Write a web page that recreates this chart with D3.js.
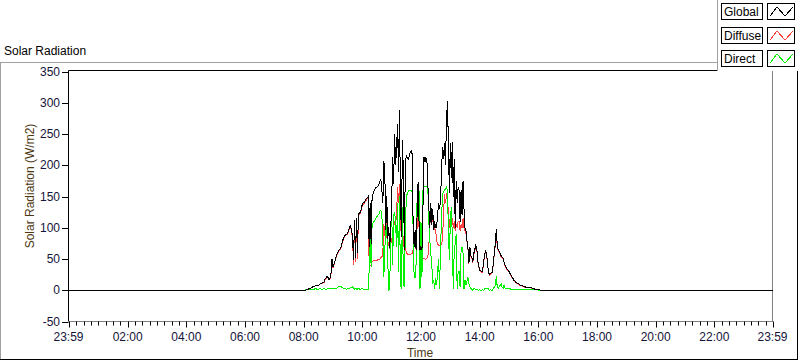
<!DOCTYPE html>
<html>
<head>
<meta charset="utf-8">
<script src="https://cdn.jsdelivr.net/npm/d3@7"></script>
<style>
  body { margin: 0; background: #fff; }
  svg { display: block; font-family: "Liberation Sans", Arial, sans-serif; }
</style>
</head>
<body>
<svg id="chart" width="800" height="361"></svg>
<script>
// samples every 2 minutes starting at 08:00 (minutes since midnight)
const startMinute = 480
const stepMinutes = 2

const globalVals = [
  0,0,0,1,2,2,3,3,4,5,
  6,6,7,7,8,8,9,10,11,12,
  12,14,18,20,22,20,17,20,28,50,38,
  41,47,53,58,61,64,66,68,74,80,
  85,87,89,90,91,96,102,104,95,86,
  48,112,52,116,60,121,124,125,130,138,
  140,141,144,146,148,150,69,140,74,150,155,
  159,162,165,165,167,170,174,177,160,139,
  206,190,96,150,82,101,68,96,140,213,
  170,250,200,225,266,190,288,150,85,240,
  190,64,205,215,212,210,215,221,223,218,
  100,70,96,65,120,173,110,64,70,64,130,
  213,205,212,210,170,133,100,140,105,130,
  96,110,100,101,120,140,130,144,190,229,
  210,235,200,266,303,240,155,235,180,237,
  150,210,100,175,140,165,160,110,160,120,175,
  130,100,96,80,69,43,69,55,53,45,
  59,65,72,69,48,40,32,32,30,30,
  45,55,64,59,45,29,25,27,28,29,
  43,60,74,98,72,65,62,59,55,53,51,
  45,40,37,34,32,30,27,24,21,19,
  16,15,13,12,11,10,9,8,7,7,
  6,6,5,5,5,5,4,4,4,3,
  3,2,2,2,1,1,1,0,0,0
]

const diffuseVals = [
  0,0,0,1,2,2,3,3,4,5,
  6,6,7,7,8,8,9,10,11,11,
  12,13,17,19,21,19,16,19,26,44,36,
  40,46,52,57,60,63,65,67,72,78,
  84,86,88,89,90,94,100,102,92,84,
  40,110,45,114,50,119,122,123,128,136,
  138,139,142,144,146,148,39,40,40,45,47,
  47,48,48,48,49,49,50,52,53,60,
  106,90,75,117,80,72,68,76,77,95,
  100,110,105,120,165,140,170,110,85,96,
  80,64,70,60,58,57,57,58,58,59,
  65,70,70,65,100,140,100,64,60,56,52,
  51,50,50,51,53,70,100,133,105,120,
  96,100,95,80,74,72,71,72,74,80,
  120,154,140,150,160,118,100,120,105,115,
  100,110,95,105,100,110,110,95,105,100,115,
  100,95,90,78,67,42,67,54,52,44,
  57,63,70,67,47,39,31,31,29,29,
  44,53,62,58,44,28,24,26,27,28,
  42,58,71,94,70,63,60,57,53,52,50,
  44,39,36,33,31,29,26,23,20,18,
  15,14,12,11,10,9,8,7,7,6,
  6,5,5,5,4,4,4,4,3,3,
  3,2,2,1,1,1,0,0,0,0
]

const directVals = [
  0,0,1,1,2,2,1,2,2,1,
  2,2,3,2,1,2,2,3,2,2,
  2,3,2,2,2,3,3,2,3,3,2,
  3,3,2,3,5,6,6,6,5,4,
  3,3,2,2,3,2,3,4,5,6,
  3,2,3,2,2,3,2,2,2,3,
  2,2,2,2,2,2,32,100,37,106,108,
  110,112,115,118,120,122,127,127,120,80,
  21,64,106,100,48,0,2,90,138,40,
  120,125,110,70,140,30,150,10,2,133,
  11,5,100,149,155,158,160,160,158,160,
  96,20,20,43,147,165,158,2,109,21,160,
  165,166,167,165,165,110,80,60,43,10,
  16,2,20,8,30,50,2,69,111,154,
  158,160,162,165,160,100,48,110,133,90,
  2,64,75,90,2,30,30,5,64,69,60,
  2,16,8,15,21,10,5,3,1,0,
  3,2,1,1,1,0,1,0,0,1,
  0,2,3,3,3,2,0,1,0,0,
  3,5,8,22,5,3,6,8,10,5,3,
  8,3,2,3,3,3,3,1,1,1,
  1,1,1,1,1,1,1,1,1,1,
  1,1,1,1,1,1,1,1,1,1,
  1,1,1,1,1,0,0,0,0,0
]

const seriesNames = ['Global', 'Diffuse', 'Direct']
const seriesColors = ['#000000', '#ff4040', '#00f000']
const yTicks = [-50, 0, 50, 100, 150, 200, 250, 300, 350]
// axis runs 23:59 -> 23:59
const dayStart = -1, dayEnd = 1439
const xMajorTicks = [-1, 120, 240, 360, 480, 600, 720, 840, 960, 1080, 1200, 1320, 1439]
const xTickLabels = ['23:59','02:00','04:00','06:00','08:00','10:00','12:00','14:00','16:00','18:00','20:00','22:00','23:59']

const svg = d3.select('#chart')

const plotL = 68.5, plotR = 772.5, plotT = 71.5, plotB = 321.5

const x = d3.scaleLinear().domain([dayStart, dayEnd]).range([plotL, plotR])
const y = d3.scaleLinear().domain([-50, 350]).range([plotB, plotT])

// outer frame
svg.append('line').attr('x1', 0).attr('x2', 717).attr('y1', 62.5).attr('y2', 62.5).attr('stroke', '#a0a0a0')
svg.append('line').attr('x1', 0.5).attr('x2', 0.5).attr('y1', 62).attr('y2', 360).attr('stroke', '#a0a0a0')
svg.append('line').attr('x1', 0).attr('x2', 798).attr('y1', 359.5).attr('y2', 359.5).attr('stroke', '#000')
svg.append('line').attr('x1', 797.5).attr('x2', 797.5).attr('y1', 71).attr('y2', 360).attr('stroke', '#000')

svg.append('text')
  .attr('x', 4).attr('y', 55)
  .style('font-size', '12px')
  .text('Solar Radiation')

// plot border: top/left black, bottom/right gray
svg.append('line').attr('x1', plotL).attr('x2', plotR).attr('y1', plotT - 1).attr('y2', plotT - 1).attr('stroke', '#000')
svg.append('line').attr('x1', plotL).attr('x2', plotL).attr('y1', plotT - 1).attr('y2', plotB).attr('stroke', '#000')
svg.append('line').attr('x1', plotR).attr('x2', plotR).attr('y1', plotT - 1).attr('y2', plotB).attr('stroke', '#808080')
svg.append('line').attr('x1', plotL).attr('x2', plotR + 0.5).attr('y1', plotB).attr('y2', plotB).attr('stroke', '#808080')

// y axis
const yAxis = svg.append('g')
yAxis.selectAll('line').data(yTicks).enter().append('line')
  .attr('x1', 62).attr('x2', plotL)
  .attr('y1', d => Math.round(y(d)) + 0.5).attr('y2', d => Math.round(y(d)) + 0.5)
  .attr('stroke', '#000')
yAxis.selectAll('text').data(yTicks).enter().append('text')
  .attr('x', 60).attr('y', d => y(d) + 4)
  .attr('text-anchor', 'end')
  .style('font-size', '12px').style('fill', '#14143a')
  .text(d => d)

svg.append('text')
  .attr('transform', 'translate(34,186) rotate(-90)')
  .attr('text-anchor', 'middle')
  .style('font-size', '12px').style('fill', '#4b3712')
  .text('Solar Radiation (W/m2)')

// x axis
const xAxis = svg.append('g')
const minorTicks = d3.range(15, 1440, 15).filter(m => m % 120 !== 0)
xAxis.selectAll('line.minor').data(minorTicks).enter().append('line')
  .attr('class', 'minor')
  .attr('x1', d => Math.round(x(d)) + 0.5).attr('x2', d => Math.round(x(d)) + 0.5)
  .attr('y1', plotB).attr('y2', plotB + 4)
  .attr('stroke', '#000')
xAxis.selectAll('line.major').data(xMajorTicks).enter().append('line')
  .attr('class', 'major')
  .attr('x1', d => Math.round(x(d)) + 0.5).attr('x2', d => Math.round(x(d)) + 0.5)
  .attr('y1', plotB).attr('y2', plotB + 6)
  .attr('stroke', '#000')
xAxis.selectAll('text').data(xMajorTicks).enter().append('text')
  .attr('x', d => x(d)).attr('y', 341)
  .attr('text-anchor', 'middle')
  .style('font-size', '12px').style('fill', '#14143a')
  .text((d, i) => xTickLabels[i])

svg.append('text')
  .attr('x', 420).attr('y', 357)
  .attr('text-anchor', 'middle')
  .style('font-size', '12px').style('fill', '#4b3712')
  .text('Time')

// series
function toPoints(vals) {
  const pts = vals.map((v, i) => [startMinute + i * stepMinutes, v])
  return [[dayStart, 0]].concat(pts, [[dayEnd, 0]])
}
const lineGen = d3.line()
  .x(d => x(d[0]))
  .y(d => y(d[1]))

const seriesData = [globalVals, diffuseVals, directVals]
// draw order: diffuse, direct, then global on top
const drawOrder = [1, 2, 0]
const plotG = svg.append('g')
drawOrder.forEach(k => {
  plotG.append('path')
    .datum(toPoints(seriesData[k]))
    .attr('d', lineGen)
    .attr('fill', 'none')
    .attr('stroke', seriesColors[k])
    .attr('stroke-width', 1)
    .style('shape-rendering', 'crispEdges')
})

// legend panel
const leg = svg.append('g')
leg.append('rect').attr('x', 717).attr('y', 0).attr('width', 83).attr('height', 71).attr('fill', '#fff')
leg.append('line').attr('x1', 717.5).attr('x2', 717.5).attr('y1', 0).attr('y2', 71).attr('stroke', '#a0a0a0')

const rowY = [3, 27, 50]
seriesNames.forEach((name, i) => {
  const ry = rowY[i]
  leg.append('rect')
    .attr('x', 721.5).attr('y', ry + 0.5).attr('width', 41).attr('height', 16)
    .attr('fill', '#fff').attr('stroke', '#000')
  leg.append('text')
    .attr('x', 724).attr('y', ry + 13)
    .style('font-size', '12px')
    .text(name)
  leg.append('rect')
    .attr('x', 767.5).attr('y', ry + 0.5).attr('width', 27).attr('height', 16)
    .attr('fill', '#fff').attr('stroke', '#000')
  leg.append('polyline')
    .attr('points', [[770, ry + 13], [777, ry + 4], [785, ry + 13], [793, ry + 4]].map(p => p.join(',')).join(' '))
    .attr('fill', 'none')
    .attr('stroke', seriesColors[i])
    .style('shape-rendering', 'crispEdges')
})
</script>
</body>
</html>
